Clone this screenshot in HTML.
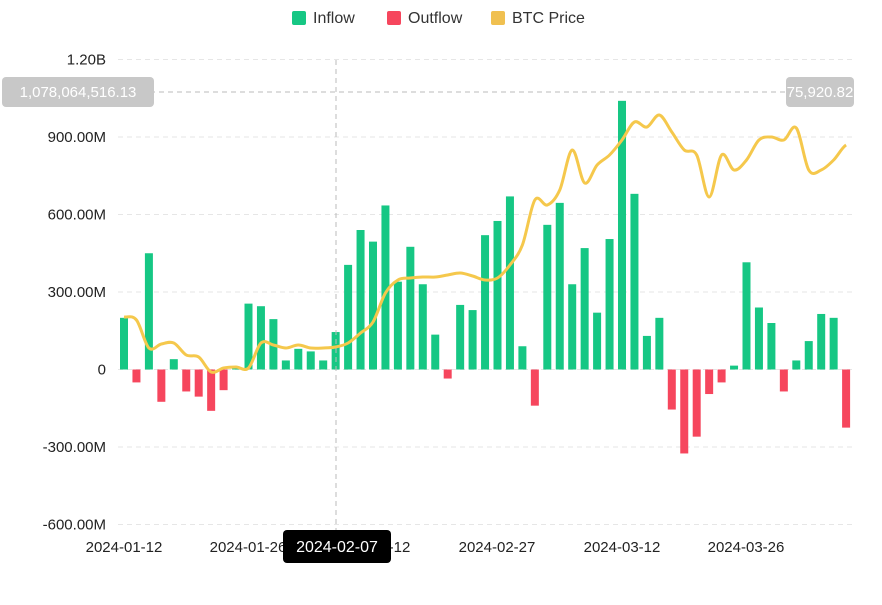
<!DOCTYPE html>
<html><head><meta charset="utf-8"><style>
html,body{margin:0;padding:0;background:#fff;}
svg text{font-family:"Liberation Sans",sans-serif;}
</style></head><body>
<svg id="c" width="882" height="600" xmlns="http://www.w3.org/2000/svg"></svg>
<script>
const s=document.getElementById('c');let h='';
const z=369.5,k=77.5/300;
// legend
h+='<rect x="292" y="11" width="14" height="14" fill="#16c784" rx="2"/><text x="313" y="23" font-size="16" fill="#333">Inflow</text>';
h+='<rect x="387" y="11" width="14" height="14" fill="#f6465d" rx="2"/><text x="408" y="23" font-size="16" fill="#333">Outflow</text>';
h+='<rect x="491" y="11" width="14" height="14" fill="#f0c050" rx="2"/><text x="512" y="23" font-size="16" fill="#333">BTC Price</text>';
const yl=[["1.20B",1200],["900.00M",900],["600.00M",600],["300.00M",300],["0",0],["-300.00M",-300],["-600.00M",-600]];
yl.forEach(([t,v])=>{const y=z-v*k;h+=`<line x1="118" x2="852" y1="${y}" y2="${y}" stroke="#e6e6e6" stroke-dasharray="5,4"/>`;
h+=`<text x="106" y="${y+5}" font-size="15" fill="#222" text-anchor="end">${t}</text>`;});
const v=[200,-50,450,-125,40,-85,-105,-160,-80,10,255,245,195,35,80,70,35,145,405,540,495,635,340,475,330,135,-35,250,230,520,575,670,90,-140,560,645,330,470,220,505,1040,680,130,200,-155,-325,-260,-95,-50,15,415,240,180,-85,35,110,215,200,-225];
const py=[317,320,348,344,343,355,357,372,368,367,368,343,345,348,345,348,348,347,343,333,322,293,280,278,277,277,275,273,276,280,278,265,245,200,205,190,150,183,165,155,140,122,127,115,132,150,155,197,155,170,160,140,137,140,128,170,170,160,145];
const X=i=>124+12.45*i;
v.forEach((d,i)=>{const x=X(i)-4;const y=d>0?z-d*k:z;const hh=Math.abs(d)*k;
h+=`<rect x="${x}" y="${y}" width="8" height="${hh}" fill="${d>0?'#16c784':'#f6465d'}"/>`;});
let p=`M${X(0)},${py[0]}`;
for(let i=0;i<py.length-1;i++){const p0=py[Math.max(0,i-1)],p1=py[i],p2=py[i+1],p3=py[Math.min(py.length-1,i+2)];
const x1=X(i),x2=X(i+1),dx=12.45/3;
p+=` C${x1+dx},${p1+(p2-p0)/6} ${x2-dx},${p2-(p3-p1)/6} ${x2},${p2}`;}
h+=`<path d="${p}" fill="none" stroke="#f5c84c" stroke-width="3"/>`;
// crosshair
h+='<line x1="336" x2="336" y1="60" y2="530" stroke="#bbb" stroke-dasharray="5,4"/>';
h+='<line x1="150" x2="786" y1="92" y2="92" stroke="#bbb" stroke-dasharray="5,4"/>';
h+='<rect x="2" y="77" width="152" height="30" rx="4" fill="#c8c8c8"/><text x="78" y="97" font-size="15" fill="#fff" text-anchor="middle">1,078,064,516.13</text>';
h+='<rect x="786" y="77" width="68" height="30" rx="4" fill="#c8c8c8"/><text x="820" y="97" font-size="15" fill="#fff" text-anchor="middle">75,920.82</text>';
[["2024-01-12",124],["2024-01-26",248],["2024-02-12",372],["2024-02-27",497],["2024-03-12",622],["2024-03-26",746]].forEach(([t,x])=>{
h+=`<text x="${x}" y="552" font-size="15" fill="#222" text-anchor="middle">${t}</text>`;});
h+='<rect x="283" y="530" width="108" height="33" rx="4" fill="#000"/><text x="337" y="552" font-size="16" fill="#fff" text-anchor="middle">2024-02-07</text>';
s.innerHTML=h;
</script>
</body></html>
